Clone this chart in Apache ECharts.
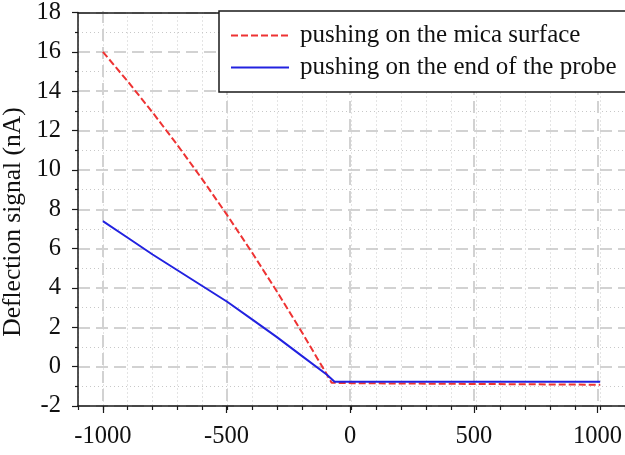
<!DOCTYPE html>
<html>
<head>
<meta charset="utf-8">
<script src="https://cdn.jsdelivr.net/npm/echarts@6/dist/echarts.min.js"></script>
<style>html,body{margin:0;padding:0;background:#fff;}#c{width:625px;height:455px;}</style>
</head>
<body>
<div id="c"></div>
<script>
// ---- data ----
const micaX = [-1000, -900, -800, -700, -600, -500, -400, -300, -200, -100, -80, 0, 500, 1000];
const micaY = [16, 14.5, 12.92, 11.26, 9.52, 7.7, 5.8, 3.82, 1.76, -0.38, -0.82, -0.84, -0.88, -0.92];
const probeX = [-1000, -900, -800, -700, -600, -500, -400, -300, -200, -100, -68, 0, 500, 1000];
const probeY = [7.4, 6.55, 5.7, 4.9, 4.1, 3.3, 2.4, 1.5, 0.55, -0.4, -0.77, -0.77, -0.77, -0.77];
const seriesNames = ['pushing on the mica surface', 'pushing on the end of the probe'];
const yTitle = 'Deflection signal (nA)';
const xMin = -1100, xMax = 1100, xMinorStep = 100;
const xLabelMin = -1000, xLabelMax = 1000, xLabelStep = 500;
const yMin = -2, yMax = 18, yStep = 2;

const FONT = 'Liberation Serif';
const pts = (xs, ys) => xs.map((x, i) => [x, ys[i]]);

const plotL = 78, plotR = 0, plotT = 11, plotB = 49;
const plotW = 625 - plotL - plotR;
const innerL = plotL + plotW * (xLabelMin - xMin) / (xMax - xMin);
const innerR = plotR + plotW * (xMax - xLabelMax) / (xMax - xMin);

const chart = echarts.init(document.getElementById('c'), null, {renderer: 'canvas'});
chart.setOption({
  animation: false,
  backgroundColor: '#fff',
  textStyle: {fontFamily: FONT},
  grid: [
    {left: plotL, right: plotR, top: plotT, bottom: plotB, containLabel: false},
    {left: innerL, right: innerR, top: plotT, bottom: plotB, containLabel: false}
  ],
  xAxis: [
    { // minor grid + minor ticks
      type: 'value', gridIndex: 0, min: xMin, max: xMax, interval: xMinorStep,
      position: 'bottom',
      axisLine: {show: true, onZero: false, lineStyle: {color: '#1a1a1a', width: 1.5}},
      axisTick: {show: true, inside: false, length: 4, lineStyle: {color: '#1a1a1a', width: 1.2}},
      axisLabel: {show: false},
      splitLine: {show: true, lineStyle: {color: '#c8c8c8', width: 1, type: [1, 3]}}
    },
    { // major dashed grid + labels
      type: 'value', gridIndex: 1, min: xLabelMin, max: xLabelMax, interval: xLabelStep,
      position: 'bottom',
      axisLine: {show: false, onZero: false},
      axisTick: {show: true, inside: false, length: 7, lineStyle: {color: '#1a1a1a', width: 1.2}},
      axisLabel: {show: true, margin: 18, color: '#111', fontSize: 24.5, fontFamily: FONT,
                  formatter: v => String(v)},
      splitLine: {show: true, lineStyle: {color: '#d2d2d2', width: 2, type: [12, 6]}}
    },
    { // top frame line
      type: 'value', gridIndex: 0, min: xMin, max: xMax, position: 'top',
      axisLine: {show: true, onZero: false, lineStyle: {color: '#1a1a1a', width: 1.5}},
      axisTick: {show: false}, axisLabel: {show: false}, splitLine: {show: false}
    }
  ],
  yAxis: [
    {
      type: 'value', gridIndex: 0, min: yMin, max: yMax, interval: yStep,
      axisLine: {show: true, onZero: false, lineStyle: {color: '#1a1a1a', width: 1.5}},
      axisTick: {show: true, inside: false, length: 6, lineStyle: {color: '#1a1a1a', width: 1.2}},
      minorTick: {show: true, splitNumber: 2, length: 3, lineStyle: {color: '#1a1a1a', width: 1.2}},
      axisLabel: {show: true, margin: 17, color: '#111', fontSize: 24.5, fontFamily: FONT,
                  formatter: v => String(v)},
      splitLine: {show: true, lineStyle: {color: '#d2d2d2', width: 2, type: [12, 6]}},
      minorSplitLine: {show: true, lineStyle: {color: '#c8c8c8', width: 1, type: [1, 3]}}
    },
    {
      type: 'value', gridIndex: 1, min: yMin, max: yMax, interval: yStep,
      show: false, splitLine: {show: false}
    }
  ],
  legend: {
    orient: 'vertical', left: 219, top: 11,
    padding: [12, 14, 12, 11], itemGap: 7,
    itemWidth: 58, itemHeight: 14,
    backgroundColor: '#fff', borderColor: '#1a1a1a', borderWidth: 1.5,
    itemStyle: {opacity: 0},
    textStyle: {fontSize: 25, color: '#111', fontFamily: FONT, padding: [0, 0, 0, 6]},
    data: seriesNames, z: 10
  },
  graphic: [{
    type: 'text', x: 13, y: 222, rotation: Math.PI / 2,
    style: {text: yTitle, fontSize: 25.5, fontFamily: FONT, fill: '#111', align: 'center', verticalAlign: 'middle'}
  }],
  series: [
    {
      name: seriesNames[0], type: 'line', xAxisIndex: 0, yAxisIndex: 0,
      data: pts(micaX, micaY), symbol: 'none', smooth: false,
      lineStyle: {color: '#ee3333', width: 2, type: [7, 3]},
      itemStyle: {color: '#ee3333'}, z: 3
    },
    {
      name: seriesNames[1], type: 'line', xAxisIndex: 0, yAxisIndex: 0,
      data: pts(probeX, probeY), symbol: 'none', smooth: false,
      lineStyle: {color: '#2222e0', width: 2},
      itemStyle: {color: '#2222e0'}, z: 4
    }
  ]
});
</script>
</body>
</html>
